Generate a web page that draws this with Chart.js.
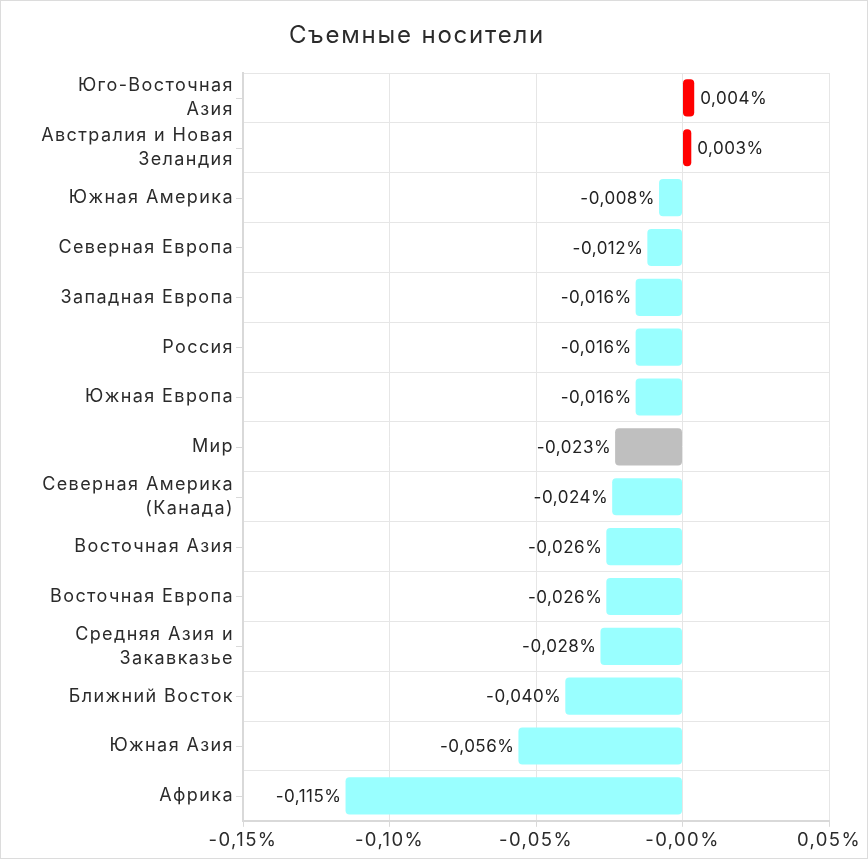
<!DOCTYPE html>
<html><head><meta charset="utf-8">
<script src="https://cdn.jsdelivr.net/npm/chart.js@4"></script>
<style>
html,body{margin:0;padding:0;background:#fff;}
#wrap{position:absolute;left:0;top:0;width:866px;height:857px;border:1px solid #dcdcdc;}
</style></head>
<body><div id="wrap"><canvas id="c" width="866" height="857"></canvas></div>
<script>
const chartTitle = "Съемные носители";
const categories = [
  ["Юго-Восточная","Азия"],
  ["Австралия и Новая","Зеландия"],
  "Южная Америка",
  "Северная Европа",
  "Западная Европа",
  "Россия",
  "Южная Европа",
  "Мир",
  ["Северная Америка","(Канада)"],
  "Восточная Азия",
  "Восточная Европа",
  ["Средняя Азия и","Закавказье"],
  "Ближний Восток",
  "Южная Азия",
  "Африка"
];
const values = [0.004,0.003,-0.008,-0.012,-0.016,-0.016,-0.016,-0.023,-0.024,-0.026,-0.026,-0.028,-0.040,-0.056,-0.115];
const valueLabels = ["0,004%","0,003%","-0,008%","-0,012%","-0,016%","-0,016%","-0,016%","-0,023%","-0,024%","-0,026%","-0,026%","-0,028%","-0,040%","-0,056%","-0,115%"];
const tickValues = [-0.15,-0.10,-0.05,0,0.05];
const tickLabels = ["-0,15%","-0,10%","-0,05%","-0,00%","0,05%"];
const colorPositive = "#ff0000";
const colorNegative = "#99ffff";
const colorWorld = "#bfbfbf";

const FONT = "Inter, 'Noto Sans', sans-serif";
const barColors = categories.map((c,i)=> c==="Мир" ? colorWorld : (values[i]>=0 ? colorPositive : colorNegative));

const spacingPlugin = {
  id:'spacing',
  beforeDraw(chart){ chart.ctx.letterSpacing = "1.4px"; },
  afterDraw(chart){
    const ctx = chart.ctx;
    ctx.save();
    ctx.letterSpacing = "1.8px";
    ctx.font = "24px " + FONT;
    ctx.fillStyle = "#2b2b2b";
    ctx.textAlign = "center";
    ctx.textBaseline = "alphabetic";
    ctx.fillText(chartTitle, 416, 42);
    ctx.restore();
    ctx.letterSpacing = "0px";
  }
};
const labelPlugin = {
  id:'vlabels',
  afterDatasetsDraw(chart){
    const ctx = chart.ctx;
    const meta = chart.getDatasetMeta(0);
    ctx.save();
    ctx.letterSpacing = "0.5px";
    ctx.font = "17px " + FONT;
    ctx.fillStyle = "#222";
    ctx.textBaseline = "middle";
    meta.data.forEach((el,i)=>{
      const v = values[i];
      if (v >= 0){ ctx.textAlign="left"; ctx.fillText(valueLabels[i], el.x+6, el.y+1); }
      else { ctx.textAlign="right"; ctx.fillText(valueLabels[i], el.x-4, el.y+1); }
    });
    ctx.restore();
  }
};
const yTickPlugin = {
  id:'yticks',
  afterDraw(chart){
    const y = chart.scales.y, ctx = chart.ctx;
    ctx.save();
    ctx.strokeStyle = "#d9d9d9"; ctx.lineWidth = 1;
    categories.forEach((c,i)=>{
      const py = Math.round(y.getPixelForValue(i))+0.5;
      ctx.beginPath(); ctx.moveTo(y.right-7,py); ctx.lineTo(y.right,py); ctx.stroke();
    });
    ctx.restore();
  }
};

new Chart(document.getElementById('c'), {
  type:'bar',
  data:{ labels:categories, datasets:[{ data:values, backgroundColor:barColors, borderRadius:4, borderSkipped:false, barPercentage:0.745, categoryPercentage:1 }]},
  options:{
    indexAxis:'y', responsive:false, animation:false,
    layout:{ padding:{ left:0, right:38, top:72, bottom:3 } },
    plugins:{ legend:{display:false}, tooltip:{enabled:false}, title:{display:false} },
    scales:{
      x:{ min:-0.15, max:0.05,
        afterBuildTicks(s){ s.ticks = tickValues.map(v=>({value:v})); },
        ticks:{ color:"#2b2b2b", font:{family:FONT, size:18.5}, padding:3, maxRotation:0, callback:(v,i)=>tickLabels[i] },
        grid:{ color:"#e6e6e6", lineWidth:1, tickLength:6, tickColor:"#d9d9d9" },
        border:{ color:"#d9d9d9", width:2 }
      },
      y:{
        afterFit(s){ s.width = 242; },
        ticks:{ color:"#2b2b2b", font:{family:FONT, size:18, lineHeight:1.35}, padding:9, autoSkip:false },
        grid:{ color:"#e6e6e6", lineWidth:1, offset:true, drawTicks:false },
        border:{ color:"#d9d9d9", width:2 }
      }
    }
  },
  plugins:[spacingPlugin, labelPlugin, yTickPlugin]
});
</script></body></html>
